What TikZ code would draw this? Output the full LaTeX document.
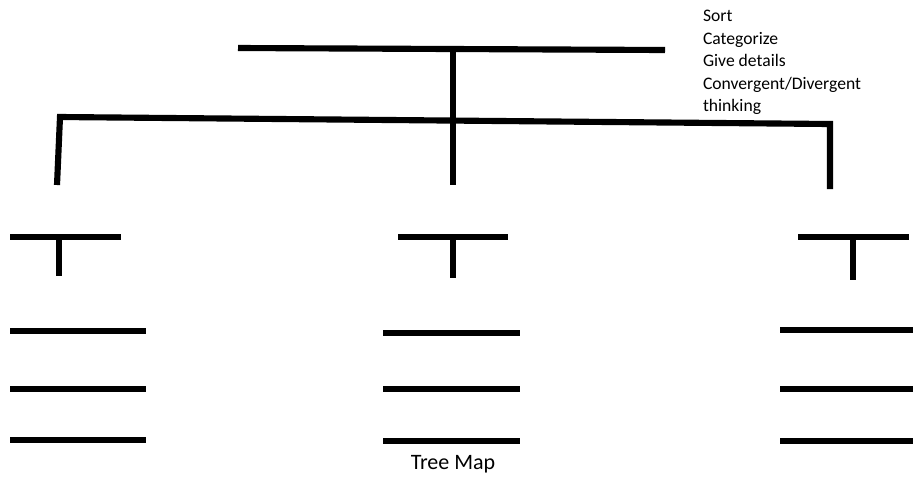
\documentclass[tikz,border=0pt]{standalone}
\usepackage{fontspec}
\setmainfont{Carlito}
\begin{document}
\begin{tikzpicture}[x=0.75pt,y=-0.75pt,line width=4.6pt]
 \useasboundingbox (0,0) rectangle (913,480);
 % top bar and stem
 \draw (238,48)--(665,50);
 \draw (453,49)--(453,185);
 % bracket to the three branches
 \draw (57,185)--(60,117)--(830,124)--(830,189);
 % branch heads
 \draw (10,237)--(121,237);
 \draw (59,237)--(59,276);
 \draw (398,237)--(508,237);
 \draw (453,237)--(453,278);
 \draw (798,237)--(909,237);
 \draw (853,237)--(853,280);
 % detail lines
 \draw (10,331)--(146,331);
 \draw (10,389)--(146,389);
 \draw (10,440)--(146,440);
 \draw (383,333)--(520,333);
 \draw (383,389)--(520,389);
 \draw (383,441)--(520,441);
 \draw (780,330)--(913,330);
 \draw (780,389)--(913,389);
 \draw (780,441)--(913,441);
 \node[anchor=north west,align=left,inner sep=0pt,font=\fontsize{13.2}{16.9}\selectfont] (notes) at (700,7)
  {Sort\\Categorize\\Give details\\Convergent/Divergent\\thinking};
 \node[font=\fontsize{16.5}{18}\selectfont,inner sep=0pt] (title) at (453,464) {Tree Map};
\end{tikzpicture}
\end{document}
